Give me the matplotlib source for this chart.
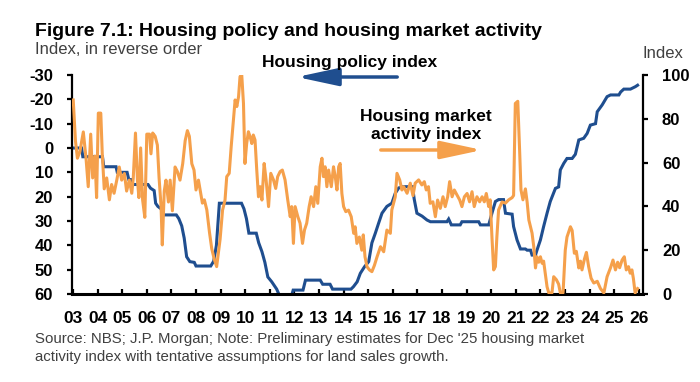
import matplotlib
matplotlib.use('Agg')
import matplotlib.pyplot as plt
from matplotlib.patches import FancyArrowPatch

plt.rcParams['font.family'] = ['Liberation Sans', 'DejaVu Sans']

BLUE = '#1F4E8F'
ORANGE = '#F5A04B'

# Housing policy index (left axis, reverse order); decimal year, value
policy_dates = [2003.00, 2003.35, 2003.40, 2004.20, 2004.25, 2004.75, 2004.80, 2005.20, 2005.27, 2005.35,
                2005.40, 2006.05, 2006.15, 2006.30, 2006.36, 2006.45, 2006.58, 2006.68, 2007.20, 2007.30,
                2007.42, 2007.52, 2007.62, 2007.75, 2007.93, 2008.00, 2008.60, 2008.72, 2008.83, 2008.95,
                2009.85, 2009.95, 2010.05, 2010.15, 2010.45, 2010.55, 2010.68, 2010.80, 2010.92, 2011.08,
                2011.28, 2011.45, 2011.85, 2011.95, 2012.35, 2012.45, 2013.05, 2013.15, 2013.45, 2013.55,
                2014.30, 2014.40, 2014.55, 2014.68, 2014.85, 2015.02, 2015.15, 2015.29, 2015.42, 2015.56,
                2015.76, 2015.96, 2016.10, 2016.24, 2016.40, 2016.80, 2016.87, 2016.98, 2017.19, 2017.39,
                2017.53, 2018.20, 2018.27, 2018.38, 2018.74, 2018.81, 2019.49, 2019.56, 2019.90, 2020.03,
                2020.17, 2020.30, 2020.50, 2020.58, 2020.85, 2020.91, 2021.05, 2021.19, 2021.39, 2021.46,
                2021.60, 2021.66, 2021.80, 2021.86, 2022.00, 2022.13, 2022.27, 2022.40, 2022.61, 2022.74,
                2022.81, 2022.95, 2023.08, 2023.29, 2023.42, 2023.56, 2023.76, 2023.90, 2024.03, 2024.24,
                2024.31, 2024.51, 2024.71, 2024.85, 2025.19, 2025.26, 2025.39, 2025.66, 2025.86, 2025.95]
policy_values = [0, 0, 3.6, 3.6, 7.7, 7.7, 10, 10, 13, 13,
                 15, 15, 16.5, 17.5, 22.7, 24, 25, 27.5, 27.5, 29,
                 32, 37, 44.7, 46.7, 47, 48.5, 48.5, 46.5, 40, 22.7,
                 22.7, 25, 29, 35, 35, 39, 42.6, 47, 53, 55,
                 58, 62, 62, 58.4, 58.4, 54.3, 54.3, 56, 56, 58,
                 58, 57, 55, 51.5, 48.8, 46.7, 39, 35, 31, 26.8,
                 24, 22.7, 18.6, 16.4, 15.9, 15.9, 21, 26.8, 28, 29.6,
                 30.3, 30.3, 29.2, 31.6, 31.6, 30.3, 30.3, 31.6, 31.6, 26.8,
                 22, 21.2, 21.2, 26.8, 27.2, 32.3, 37.8, 41.5, 41.5, 42,
                 42, 44, 44, 42, 37.8, 32.3, 26.8, 22, 16.6, 16,
                 9, 6.3, 4.3, 4.3, 2.6, -3.3, -4, -6, -9.4, -10,
                 -14.9, -17.7, -21.1, -21.8, -21.8, -23, -24.2, -24.2, -25.2, -25.8]

# Housing market activity index (right axis)
activity_dates = [2003.01, 2003.10, 2003.18, 2003.28, 2003.42, 2003.53, 2003.62, 2003.72, 2003.80, 2003.89,
                  2003.96, 2004.03, 2004.13, 2004.19, 2004.27, 2004.37, 2004.48, 2004.57, 2004.67, 2004.78,
                  2004.88, 2004.98, 2005.09, 2005.18, 2005.29, 2005.39, 2005.45, 2005.54, 2005.62, 2005.68,
                  2005.75, 2005.83, 2005.92, 2006.00, 2006.11, 2006.17, 2006.24, 2006.34, 2006.43, 2006.50,
                  2006.58, 2006.63, 2006.71, 2006.78, 2006.88, 2006.95, 2007.04, 2007.15, 2007.24, 2007.35,
                  2007.46, 2007.56, 2007.65, 2007.73, 2007.83, 2007.92, 2008.00, 2008.10, 2008.17, 2008.26,
                  2008.34, 2008.44, 2008.55, 2008.64, 2008.74, 2008.84, 2008.98, 2009.08, 2009.18, 2009.25,
                  2009.35, 2009.43, 2009.52, 2009.59, 2009.66, 2009.73, 2009.79, 2009.86, 2009.93, 2009.99,
                  2010.06, 2010.13, 2010.20, 2010.27, 2010.33, 2010.40, 2010.47, 2010.54, 2010.61, 2010.68,
                  2010.77, 2010.85, 2010.95, 2011.04, 2011.15, 2011.24, 2011.32, 2011.42, 2011.51, 2011.62,
                  2011.73, 2011.83, 2011.89, 2011.96, 2012.03, 2012.14, 2012.23, 2012.33, 2012.41, 2012.50,
                  2012.60, 2012.68, 2012.78, 2012.87, 2012.95, 2013.05, 2013.12, 2013.18, 2013.25, 2013.32,
                  2013.39, 2013.50, 2013.59, 2013.66, 2013.73, 2013.80, 2013.86, 2013.93, 2014.00, 2014.09,
                  2014.20, 2014.31, 2014.41, 2014.47, 2014.54, 2014.64, 2014.74, 2014.80, 2014.87, 2014.95,
                  2015.05, 2015.15, 2015.25, 2015.36, 2015.50, 2015.63, 2015.76, 2015.90, 2015.96, 2016.10,
                  2016.17, 2016.28, 2016.37, 2016.44, 2016.58, 2016.71, 2016.82, 2016.91, 2017.05, 2017.18,
                  2017.28, 2017.36, 2017.45, 2017.52, 2017.63, 2017.73, 2017.82, 2017.93, 2018.04, 2018.13,
                  2018.23, 2018.31, 2018.41, 2018.50, 2018.61, 2018.72, 2018.81, 2018.91, 2019.02, 2019.12,
                  2019.22, 2019.31, 2019.42, 2019.53, 2019.63, 2019.72, 2019.80, 2019.90, 2019.96, 2020.03,
                  2020.10, 2020.17, 2020.23, 2020.30, 2020.44, 2020.58, 2020.71, 2020.85, 2020.91, 2020.98,
                  2021.08, 2021.16, 2021.21, 2021.29, 2021.39, 2021.46, 2021.53, 2021.66, 2021.73, 2021.80,
                  2021.86, 2021.93, 2022.00, 2022.07, 2022.13, 2022.27, 2022.34, 2022.47, 2022.54, 2022.65,
                  2022.74, 2022.81, 2022.92, 2023.01, 2023.08, 2023.22, 2023.29, 2023.38, 2023.46, 2023.56,
                  2023.63, 2023.69, 2023.79, 2023.87, 2023.96, 2024.06, 2024.17, 2024.31, 2024.44, 2024.58,
                  2024.71, 2024.85, 2024.95, 2025.05, 2025.14, 2025.22, 2025.32, 2025.41, 2025.49, 2025.58,
                  2025.65, 2025.72, 2025.78, 2025.85, 2025.95]
activity_values = [88.6, 70, 62, 65, 74, 62, 49, 73, 53, 63,
                   44, 82.6, 82.6, 64, 48, 53, 43, 50, 46, 52,
                   58, 52, 55, 47, 52, 46, 53, 73.5, 52, 44,
                   66.7, 43, 35, 73, 73, 64, 73.5, 72, 68, 53,
                   40, 22.4, 47, 52, 42, 52, 38, 58, 56, 52,
                   59.5, 70, 74.6, 72, 59.5, 56.6, 47.5, 52, 47.5, 41.5,
                   43, 38.4, 28, 20.7, 16, 12.5, 25, 38.3, 42.9, 53.6,
                   55.1, 67.2, 79.3, 88.6, 85.6, 90.1, 99.3, 100, 87, 59.6,
                   68.7, 74.1, 71.8, 68.7, 72.6, 70.3, 56.6, 44.4, 49, 42.9,
                   59.6, 52.1, 39.9, 55.1, 52.1, 48.2, 53.6, 55.9, 56.6, 52.1,
                   42.9, 35.3, 39.9, 23.1, 39.9, 35.3, 32.3, 23.1, 29.2, 32.3,
                   39.9, 44.4, 39.9, 49, 41.4, 58.1, 62, 53.6, 58.1, 49,
                   56.6, 49, 58.1, 53.6, 47.5, 58.1, 59.6, 45.9, 39.9, 37.6,
                   38.3, 35.3, 27.7, 30.7, 23.1, 26, 20, 27, 17, 12.5,
                   11, 10.2, 13, 17, 21.6, 19.3, 29.2, 27.7, 38.4, 44.4,
                   55.1, 52.1, 47.5, 49, 46, 50.6, 44.9, 50.6, 52.1, 49.8,
                   51.3, 47.5, 49, 41.4, 42.1, 35.3, 42.9, 39.1, 44.4, 39.9,
                   44.4, 51.3, 44.4, 47.5, 45.2, 42.9, 39.9, 44.4, 45.9, 42.1,
                   46.7, 39.9, 44.4, 42.1, 44.4, 42.1, 45.9, 39.9, 43, 26,
                   11, 12.5, 26, 38.4, 42, 41.5, 43, 44, 45, 87,
                   88, 64, 47.5, 43, 48, 42, 33.8, 27.8, 21.6, 11.9,
                   17, 14.5, 17, 14, 15, 3.3, 0.5, 0.5, 7.9, 6.5,
                   4.5, 0.5, 0.5, 20, 26, 30.7, 29, 18.6, 19.5, 11.9,
                   15, 11, 16, 19, 12.5, 7.2, 5, 5.8, 2.5, 0.5,
                   7.9, 12, 15.5, 11, 14.5, 12, 15.5, 17, 11, 12.5,
                   9.5, 11, 7, 0.5, 2.5]

year_ticks = list(range(2003, 2027))
year_labels = [f"{y % 100:02d}" for y in year_ticks]
left_ticks = list(range(-30, 61, 10))
right_ticks = list(range(0, 101, 20))

fig = plt.figure(figsize=(7, 3.82), dpi=100)
ax = fig.add_axes([72/700, 1-294/382, (643-72)/700, (294-75)/382])
ax2 = ax.twinx()

ax.plot(policy_dates, policy_values, color=BLUE, lw=2.2, solid_joinstyle='miter')
ax2.plot(activity_dates, activity_values, color=ORANGE, lw=2.2)

ax.set_xlim(2002.96, 2026.17)
ax.set_ylim(60, -30)
ax2.set_ylim(0, 100)
ax.set_yticks(left_ticks)
ax.set_yticklabels([str(v) for v in left_ticks])
ax2.set_yticks(right_ticks)
ax.set_xticks(year_ticks)
ax.set_xticklabels(year_labels)

for a in (ax, ax2):
    a.spines['top'].set_visible(False)
    a.patch.set_visible(False)
ax.spines['right'].set_visible(False)
ax2.spines['left'].set_visible(False)
ax2.spines['bottom'].set_visible(False)
ax.spines['left'].set_linewidth(1.6)
ax.spines['bottom'].set_linewidth(2.2)
ax2.spines['right'].set_linewidth(1.6)

ax.tick_params(axis='x', direction='in', length=3.6, width=1.6, pad=12, labelsize=12.5)
ax.tick_params(axis='y', direction='out', length=3.6, width=1.6, pad=10, labelsize=12)
ax2.tick_params(axis='y', direction='out', length=3.6, width=1.6, pad=10, labelsize=12)
for lab in ax.get_xticklabels() + ax.get_yticklabels() + ax2.get_yticklabels():
    lab.set_fontweight('bold')

fig.text(35/700, 1-32/382, "Figure 7.1: Housing policy and housing market activity",
         fontsize=14, fontweight='bold', va='center', ha='left')
fig.text(35/700, 1-50/382, "Index, in reverse order", fontsize=12, color='#404040',
         va='center', ha='left')
fig.text(643/700, 1-53/382, "Index", fontsize=12, color='#404040', va='center', ha='left')

fig.text(262/700, 1-63/382, "Housing policy index", fontsize=12.5, fontweight='bold',
         va='center', ha='left')
fig.text(426/700, 1-125/382, "Housing market\nactivity index", fontsize=12.5, fontweight='bold',
         va='center', ha='center', linespacing=1.25)

arr1 = FancyArrowPatch((400/700, 1-77/382), (294/700, 1-77/382), transform=fig.transFigure,
                       arrowstyle='-|>,head_length=1.4,head_width=0.3', mutation_scale=18,
                       lw=2.5, color=BLUE)
arr2 = FancyArrowPatch((378/700, 1-150/382), (485/700, 1-150/382), transform=fig.transFigure,
                       arrowstyle='-|>,head_length=1.4,head_width=0.3', mutation_scale=18,
                       lw=2.5, color=ORANGE)
fig.patches.extend([arr1, arr2])

fig.text(35/700, 1-348/382,
         "Source: NBS; J.P. Morgan; Note: Preliminary estimates for Dec '25 housing market\n"
         "activity index with tentative assumptions for land sales growth.",
         fontsize=10.8, color='#404040', va='center', ha='left', linespacing=1.3)

fig.savefig('out.png', dpi=100)
